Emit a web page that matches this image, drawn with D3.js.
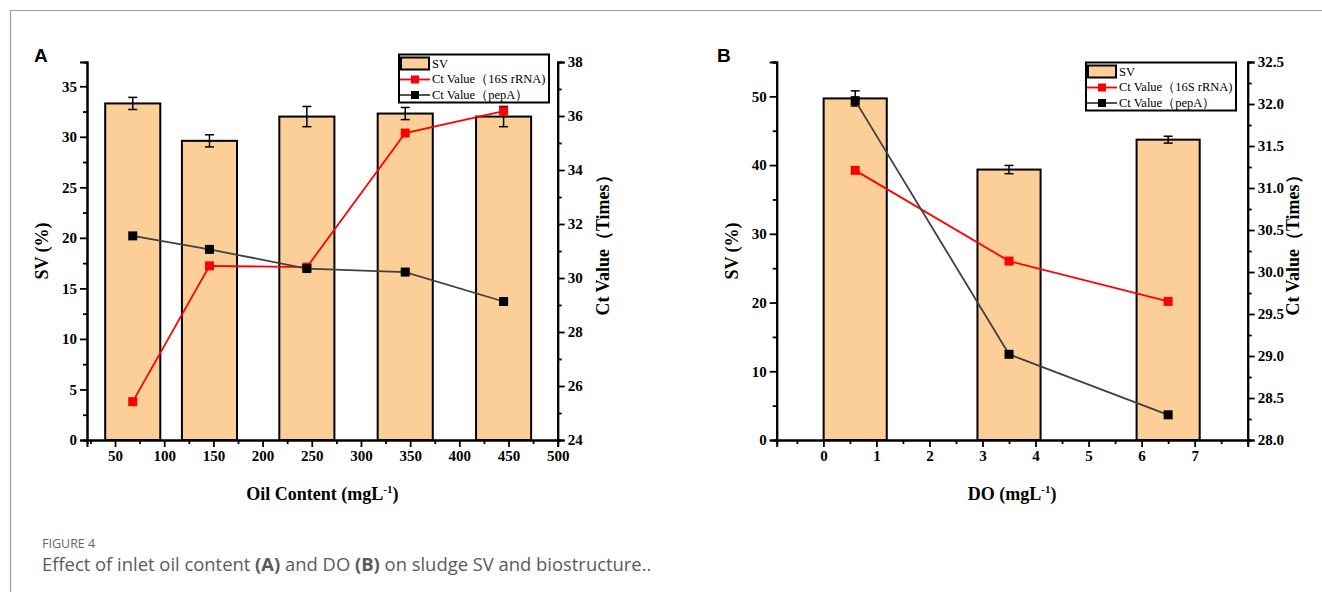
<!DOCTYPE html>
<html>
<head>
<meta charset="utf-8">
<script src="https://cdn.jsdelivr.net/npm/d3@7"></script>
<style>
  body { margin: 0; background: #fff; }
  svg text { font-family: "Liberation Serif", "Times New Roman", serif; }
</style>
</head>
<body>
<div id="chart"></div>
<script>
// Panel A data: oil content
var oilX = [68, 146, 245, 345, 445];
var oilSV = [33.3, 29.6, 32.0, 32.3, 32.0];
var oilSVErr = [0.6, 0.6, 1.0, 0.6, 1.0];
var oil16S = [25.42, 30.45, 30.4, 35.37, 36.18];
var oilPepA = [31.56, 31.06, 30.35, 30.22, 29.13];

// Panel B data: DO
var doX = [0.6, 3.5, 6.5];
var doSV = [49.7, 39.35, 43.7];
var doSVErr = [1.1, 0.6, 0.5];
var do16S = [31.21, 30.13, 29.65];
var doPepA = [32.04, 29.02, 28.3];

var legendLabels = ["SV", "Ct Value（16S rRNA)", "Ct Value（pepA）"];

var svgWidth = 1322;
var svgHeight = 592;

var svg = d3.select("#chart")
  .append("svg")
  .attr("width", svgWidth)
  .attr("height", svgHeight);

// outer frame (top and left only)
svg.append("path")
  .attr("d", "M10.5,592 L10.5,10.5 L1322,10.5")
  .attr("fill", "none")
  .attr("stroke", "#9a9a9a")
  .attr("stroke-width", 1.2);

var barFill = "#FBCF97";
var lineGray = "#404040";

function drawPanel(cfg) {
  var g = svg.append("g");
  var top = 62, bottom = 440;

  var x = d3.scaleLinear().domain(cfg.xDomain).range([cfg.left, cfg.right]);
  var yL = d3.scaleLinear().domain(cfg.yLDomain).range([bottom, top]);
  var yR = d3.scaleLinear().domain(cfg.yRDomain).range([bottom, top]);

  // bars
  g.selectAll("rect.bar")
    .data(cfg.sv)
    .enter()
    .append("rect")
    .attr("class", "bar")
    .attr("x", (d, i) => x(cfg.xs[i] - cfg.barW / 2))
    .attr("width", (d, i) => x(cfg.xs[i] + cfg.barW / 2) - x(cfg.xs[i] - cfg.barW / 2))
    .attr("y", d => yL(d))
    .attr("height", d => bottom - yL(d))
    .attr("fill", barFill)
    .attr("stroke", "#000")
    .attr("stroke-width", 2);

  // error bars
  cfg.sv.forEach(function(d, i) {
    var cx = x(cfg.xs[i]);
    var y1 = yL(d + cfg.err[i]), y2 = yL(d - cfg.err[i]);
    g.append("line").attr("x1", cx).attr("x2", cx).attr("y1", y1).attr("y2", y2)
      .attr("stroke", "#000").attr("stroke-width", 1.5);
    [y1, y2].forEach(function(yy) {
      g.append("line").attr("x1", cx - 4.5).attr("x2", cx + 4.5).attr("y1", yy).attr("y2", yy)
        .attr("stroke", "#000").attr("stroke-width", 1.5);
    });
  });

  // lines
  var series = [
    { vals: cfg.s16, color: "#FF0000", marker: "#FF0000" },
    { vals: cfg.pep, color: lineGray, marker: "#000" }
  ];
  var line = d3.line().x(d => x(d[0])).y(d => yR(d[1]));
  series.forEach(function(s) {
    var pts = cfg.xs.map((v, i) => [v, s.vals[i]]);
    g.append("path")
      .datum(pts)
      .attr("d", line)
      .attr("fill", "none")
      .attr("stroke", s.color)
      .attr("stroke-width", 1.8);
    g.selectAll(null)
      .data(pts)
      .enter()
      .append("rect")
      .attr("x", d => x(d[0]) - 4.5)
      .attr("y", d => yR(d[1]) - 4.5)
      .attr("width", 9)
      .attr("height", 9)
      .attr("fill", s.marker);
  });

  // axes
  var bottomAxis = d3.axisBottom(x).tickValues(cfg.xTicks).tickSize(7).tickFormat(d3.format("d"));
  var bottomMinor = d3.axisBottom(x).tickValues(cfg.xMinor).tickSize(4).tickFormat("");
  var leftAxis = d3.axisLeft(yL).tickValues(cfg.yLTicks).tickSize(7).tickFormat(d3.format("d"));
  var leftMinor = d3.axisLeft(yL).tickValues(cfg.yLMinor).tickSize(4).tickFormat("");
  var rightAxis = d3.axisRight(yR).tickValues(cfg.yRTicks).tickSize(7).tickFormat(cfg.yRFormat);
  var rightMinor = d3.axisRight(yR).tickValues(cfg.yRMinor).tickSize(4).tickFormat("");

  var axes = [
    [bottomMinor, `translate(0,${bottom})`],
    [bottomAxis, `translate(0,${bottom})`],
    [leftMinor, `translate(${cfg.left},0)`],
    [leftAxis, `translate(${cfg.left},0)`],
    [rightMinor, `translate(${cfg.right},0)`],
    [rightAxis, `translate(${cfg.right},0)`]
  ];
  axes.forEach(function(a) {
    var ag = g.append("g").attr("transform", a[1]).call(a[0]);
    ag.select(".domain").attr("stroke", "#000").attr("stroke-width", 2);
    ag.selectAll(".tick line").attr("stroke", "#000").attr("stroke-width", 1.8);
    ag.selectAll(".tick text")
      .attr("fill", "#000")
      .style("font-family", "'Liberation Serif', serif")
      .style("font-weight", "bold")
      .style("font-size", "15px");
  });

  // axis titles
  g.append("text")
    .attr("transform", `translate(${cfg.left - 45},${(top + bottom) / 2}) rotate(-90)`)
    .attr("text-anchor", "middle")
    .attr("dy", "0.35em")
    .style("font-weight", "bold")
    .style("font-size", "18px")
    .text("SV (%)");

  g.append("text")
    .attr("transform", `translate(${cfg.right + 45},${(top + bottom) / 2 - 10}) rotate(-90)`)
    .attr("text-anchor", "middle")
    .attr("dy", "0.35em")
    .style("font-weight", "bold")
    .style("font-size", "18px")
    .text("Ct Value（Times）");

  var xt = g.append("text")
    .attr("x", (cfg.left + cfg.right) / 2)
    .attr("y", 500)
    .attr("text-anchor", "middle")
    .style("font-weight", "bold")
    .style("font-size", "18px");
  xt.append("tspan").text(cfg.xTitle + " (mgL");
  xt.append("tspan").attr("dy", -7).style("font-size", "11px").text("-1");
  xt.append("tspan").attr("dy", 7).text(")");

  // panel letter
  g.append("text")
    .attr("x", cfg.letterX)
    .attr("y", 62)
    .style("font-family", "'Liberation Sans', Arial, sans-serif")
    .style("font-weight", "bold")
    .style("font-size", "19px")
    .text(cfg.letter);

  // legend
  var lg = g.append("g").attr("transform", `translate(${cfg.legX},${cfg.legY})`);
  lg.append("rect")
    .attr("width", cfg.legW).attr("height", 48)
    .attr("fill", "#fff").attr("stroke", "#000").attr("stroke-width", 2);
  lg.append("rect")
    .attr("x", 2).attr("y", 3).attr("width", 28).attr("height", 12)
    .attr("fill", barFill).attr("stroke", "#000").attr("stroke-width", 2);
  [["#FF0000", "#FF0000"], [lineGray, "#000"]].forEach(function(c, i) {
    var yy = 25 + i * 15.5;
    lg.append("line").attr("x1", 1).attr("x2", 31).attr("y1", yy).attr("y2", yy)
      .attr("stroke", c[0]).attr("stroke-width", 1.8);
    lg.append("rect").attr("x", 12).attr("y", yy - 4).attr("width", 8).attr("height", 8)
      .attr("fill", c[1]);
  });
  legendLabels.forEach(function(t, i) {
    lg.append("text")
      .attr("x", 33)
      .attr("y", 9 + i * 15.5)
      .attr("dy", "0.35em")
      .style("font-size", "12.5px")
      .text(t);
  });
}

drawPanel({
  letter: "A", letterX: 34,
  left: 87, right: 557.7,
  xDomain: [21.5, 500],
  xs: oilX, barW: 56,
  sv: oilSV, err: oilSVErr, s16: oil16S, pep: oilPepA,
  yLDomain: [0, 37.4], yRDomain: [24, 38],
  xTicks: d3.range(50, 501, 50), xMinor: d3.range(25, 500, 50),
  yLTicks: d3.range(0, 36, 5), yLMinor: d3.range(2.5, 37.5, 5),
  yRTicks: d3.range(24, 39, 2), yRMinor: d3.range(25, 38, 2),
  yRFormat: d3.format("d"),
  xTitle: "Oil Content",
  legX: 399, legY: 54.5, legW: 150
});

drawPanel({
  letter: "B", letterX: 717,
  left: 776.7, right: 1247.7,
  xDomain: [-0.88, 8],
  xs: doX, barW: 1.19,
  sv: doSV, err: doSVErr, s16: do16S, pep: doPepA,
  yLDomain: [0, 55], yRDomain: [28, 32.5],
  xTicks: d3.range(0, 8, 1), xMinor: d3.range(-0.5, 8, 1),
  yLTicks: d3.range(0, 51, 10), yLMinor: d3.range(5, 56, 10),
  yRTicks: d3.range(28, 32.51, 0.5), yRMinor: d3.range(28.25, 32.5, 0.5),
  yRFormat: d3.format(".1f"),
  xTitle: "DO",
  legX: 1086, legY: 62.5, legW: 150
});

// caption
svg.append("text")
  .attr("x", 42)
  .attr("y", 548)
  .style("font-family", "'Open Sans', sans-serif")
  .style("font-size", "12.5px")
  .attr("fill", "#666")
  .text("FIGURE 4");

var cap = svg.append("text")
  .attr("x", 42)
  .attr("y", 571)
  .style("font-family", "'Open Sans', sans-serif")
  .style("font-size", "18.4px")
  .attr("fill", "#5a5a5a");
cap.append("tspan").text("Effect of inlet oil content ");
cap.append("tspan").style("font-weight", "bold").text("(A)");
cap.append("tspan").text(" and DO ");
cap.append("tspan").style("font-weight", "bold").text("(B)");
cap.append("tspan").text(" on sludge SV and biostructure..");
</script>
</body>
</html>
